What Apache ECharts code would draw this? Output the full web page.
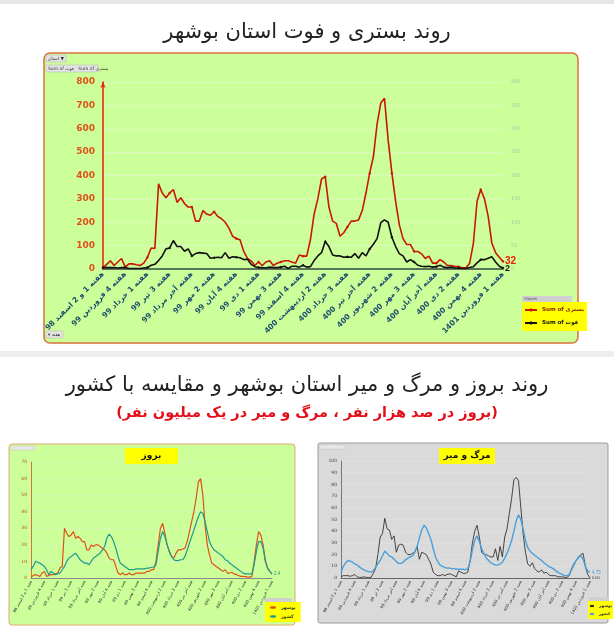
<!DOCTYPE html>
<html><head><meta charset="utf-8">
<script src="https://cdn.jsdelivr.net/npm/echarts@6/dist/echarts.min.js"></script>
<style>html,body{margin:0;padding:0;background:#fff}#c{width:614px;height:640px}</style>
</head><body><div id="c"></div>
<script>
// ---- tick labels (one every 6 weeks) ----
const weekTicks = [
 'هفته 1 و 2 اسفند 98','هفته 4 فروردین 99','هفته 1 خرداد 99','هفته 3 تیر 99','هفته آخر مرداد 99',
 'هفته 2 مهر 99','هفته 4 آبان 99','هفته 1 دی 99','هفته 3 بهمن 99','هفته 4 اسفند 99',
 'هفته 2 اردیبهشت 400','هفته 3 خرداد 400','هفته آخر تیر 400','هفته 2 شهریور 400','هفته 3 مهر 400',
 'هفته آخر آبان 400','هفته 2 دی 400','هفته 4 بهمن 400','هفته 1 فروردین 1401'
];
// ---- top chart: weekly hospitalised (left axis) and deaths (right axis) ----
const bastari = [
 5,20,35,15,30,45,8,22,22,18,
 15,25,50,90,88,365,325,305,325,340,
 285,305,280,265,265,205,205,250,235,230,
 245,225,215,200,175,140,130,125,75,45,
 35,15,30,15,30,35,15,25,30,35,
 35,30,25,60,55,55,125,235,300,385,
 395,265,205,195,140,155,180,205,205,210,
 250,325,410,480,620,710,730,550,410,290,
 190,130,105,105,75,75,65,45,55,25,
 25,40,30,15,15,12,10,5,5,25,
 110,290,340,300,225,110,70,50,32
];
const fot = [
 3,3,3,3,2,3,3,1,1,1,
 1,2,3,8,10,18,28,43,45,61,
 48,48,38,43,28,33,35,34,33,23,
 24,25,24,35,23,26,25,24,20,21,
 10,5,3,3,2,4,3,3,4,6,
 1,6,6,4,8,4,5,18,28,35,
 59,48,30,28,28,25,26,25,33,23,
 35,28,43,53,65,99,105,100,68,48,
 33,28,15,20,15,8,6,5,6,4,
 5,8,4,3,4,2,2,1,1,3,
 5,13,20,20,23,26,15,6,2
];
// ---- bottom-left: incidence per 100k ----
const incBushehr = [
 0.5,1.5,2,1.5,1,3,4,1,1.5,2,
 2,2.5,3,6,7,30,27,25,26,28,
 24,25,24,22,22,17,17,20,19,20,
 20,19,18,17,15,12,11,11,7,3,
 2,3,2,2,3,2,2,3,3,3,
 3,3,4,4,5,5,10,20,30,33,
 27,20,16,13,12,15,17,17,17.5,18,
 22,28,34,40,48,58,60,50,32,20,
 14,9,8,7,6,5,4,5,3,3,
 3.5,2.5,2,1.5,1,1,0.8,0.5,0.5,1,
 10,20,28,26,20,11,6,4,2.5
];
const incIran = [
 5,7,10,9.5,9,8,7,5,2,4,
 3,2,2.5,3,5,7,10,12,13,14,
 15,13,11,10,9,9,8,10,12,13,
 14,15,17,19,24,26.5,25,22,18,13,
 9,8,7,6,5,5,5,5.5,5.5,5.5,
 5.5,5.5,6,6,6.5,6.5,8,16,24,28,
 25,20,16,13,11,10.5,10.5,11,11,13,
 17,21,25,29,33,37,40,39,34,28,
 22,19,17,16,15,14,13,11,10.5,9,
 8,7,6,5,4,3,2.5,2.5,2.5,2.5,
 8,16,22,22,18,10,6,4,2.4
];
// ---- bottom-right: deaths per million ----
const mortBushehr = [
 1,2,2,2,1.5,2,3,1,0.5,0.5,
 1,0.5,0.5,0.5,4,8,20,35,38,51,
 42,41,33,36,22,28,29,28,22,20,
 20,21,22,27,16,22,21,20,16,12,
 5,3,2,2,3,2,3,3.5,3,2,
 1,6,5,4,4,5,15,30,40,45,
 35,22,20,20,19,18,18,25,15,27,
 18,35,42,55,68,84,86,83,60,38,
 22,12,10,13,8,6,5,7,4,5,
 3,2,2,2,1,1,1,0.5,0.5,2,
 8,12,15,18,20,21,10,3,0
];
const mortIran = [
 5,10,13,15,14.5,13.5,12,11,9.5,8,
 7,6,5.5,5,6,9,12,15,19,23,
 21,19,18,16,14,12.5,12.5,13.5,15.5,17,
 18,19,22,27,34,41,45,43,38,33,
 25,18,14,11,10,9,8.5,8.5,8,8,
 7.5,7.5,7.5,7.5,7,8,14,24,32,36,
 31,25,21,17,15,13,12,11,11,12,
 13.5,17,21,26,32,40,49,54,50,42,
 32,26,23,21,19.5,18,16.5,15,13,11.5,
 10,9,8,6.5,5,4,3,2,2,3,
 7,11,15,17.5,19,16,10,6,4.75
];
const weeks = bastari.map((_, i) => i % 6 === 0 ? weekTicks[i / 6] : 'w' + (i + 1));

const FF = 'DejaVu Sans';
const chart = echarts.init(document.getElementById('c'));
const showTick = i => i % 6 === 0;
const smallLbl = (c) => ({interval: showTick, rotate: 62, fontSize: 4, color: c, margin: 3, fontFamily: FF});

chart.setOption({
  backgroundColor: '#ffffff',
  animation: false,
  title: [
    {text: 'روند بستری و فوت استان بوشهر', left: 'center', top: 17,
     textStyle: {fontFamily: FF, fontSize: 21, fontWeight: 'normal', color: '#222'}},
    {text: 'روند بروز و مرگ و میر استان بوشهر و مقایسه با کشور', left: 'center', top: 370,
     textStyle: {fontFamily: FF, fontSize: 21, fontWeight: 'normal', color: '#222'}},
    {text: '(بروز در صد هزار نفر ، مرگ و میر در یک میلیون نفر)', left: 'center', top: 401,
     textStyle: {fontFamily: FF, fontSize: 14.5, fontWeight: 'bold', color: '#e3101a'}}
  ],
  graphic: [
    {type: 'rect', z: -10, shape: {x: 0, y: 0, width: 614, height: 4}, style: {fill: '#e6e6e6'}},
    {type: 'rect', z: -10, shape: {x: 0, y: 351, width: 614, height: 6}, style: {fill: '#eeeeee'}},
    {type: 'rect', z: -10, shape: {x: 44, y: 53, width: 534, height: 290, r: 6},
     style: {fill: '#ccff99', stroke: '#d9703a', lineWidth: 1.5}},
    {type: 'rect', z: -10, shape: {x: 9, y: 444, width: 286, height: 181, r: 3},
     style: {fill: '#ccff99', stroke: '#e0a878', lineWidth: 1}},
    {type: 'rect', z: -10, shape: {x: 318, y: 443, width: 290, height: 180, r: 2},
     style: {fill: '#dadada', stroke: '#9a9a9a', lineWidth: 1}},
    // small pivot buttons
    {type: 'rect', z: 5, shape: {x: 46, y: 55, width: 20, height: 7}, style: {fill: '#e4e4e4', stroke: '#b0b0b0', lineWidth: 0.5}},
    {type: 'text', z: 6, style: {x: 48, y: 58.5, text: 'استان ▼', fontSize: 4.5, fontFamily: FF, fill: '#333', verticalAlign: 'middle'}},
    {type: 'rect', z: 5, shape: {x: 46, y: 65, width: 52, height: 7}, style: {fill: '#e4e4e4', stroke: '#b0b0b0', lineWidth: 0.5}},
    {type: 'text', z: 6, style: {x: 48, y: 68.5, text: 'Sum of فوت   Sum of بستری', fontSize: 4.5, fontFamily: FF, fill: '#333', verticalAlign: 'middle'}},
    {type: 'rect', z: 5, shape: {x: 46, y: 331, width: 17, height: 7}, style: {fill: '#e4e4e4', stroke: '#b0b0b0', lineWidth: 0.5}},
    {type: 'text', z: 6, style: {x: 48, y: 334.5, text: '▾ هفته', fontSize: 4.5, fontFamily: FF, fill: '#333', verticalAlign: 'middle'}},
    // legend headers
    {type: 'rect', z: 5, shape: {x: 522, y: 296, width: 50, height: 6}, style: {fill: '#d0d0d0'}},
    {type: 'text', z: 6, style: {x: 524, y: 299, text: 'Values', fontSize: 4, fontFamily: FF, fill: '#555', verticalAlign: 'middle'}},
    {type: 'rect', z: 5, shape: {x: 265, y: 598, width: 27, height: 4}, style: {fill: '#d0d0d0'}},
    {type: 'rect', z: 5, shape: {x: 588, y: 597, width: 20, height: 4}, style: {fill: '#d0d0d0'}},
    // tiny panel buttons
    {type: 'rect', z: 5, shape: {x: 11, y: 446, width: 24, height: 4}, style: {fill: '#e8e8e8', stroke: '#bbb', lineWidth: 0.4}},
    {type: 'rect', z: 5, shape: {x: 320, y: 445, width: 24, height: 4}, style: {fill: '#e8e8e8', stroke: '#bbb', lineWidth: 0.4}},
    // yellow title boxes
    {type: 'rect', z: 5, shape: {x: 125, y: 448, width: 53, height: 16}, style: {fill: '#ffff00'}},
    {type: 'text', z: 6, style: {x: 151.5, y: 456, text: 'بروز', fontSize: 9, fontWeight: 'bold', fontFamily: FF, fill: '#111', align: 'center', verticalAlign: 'middle'}},
    {type: 'rect', z: 5, shape: {x: 439, y: 448, width: 56, height: 16}, style: {fill: '#ffff00'}},
    {type: 'text', z: 6, style: {x: 467, y: 456, text: 'مرگ و میر', fontSize: 9, fontWeight: 'bold', fontFamily: FF, fill: '#111', align: 'center', verticalAlign: 'middle'}}
  ],
  legend: [
    {data: [{name: 'Sum of بستری', textStyle: {color: '#8a1a00'}}, {name: 'Sum of فوت', textStyle: {color: '#111'}}],
     left: 522, top: 302, orient: 'vertical', backgroundColor: '#ffff00', padding: [5, 3, 5, 2],
     itemWidth: 12, itemHeight: 5, itemGap: 7, selectedMode: false,
     textStyle: {fontSize: 5.5, fontWeight: 'bold', fontFamily: FF}},
    {data: ['بوشهر|بروز', 'کشور|بروز'], formatter: n => n.split('|')[0],
     left: 265, top: 602, orient: 'vertical', backgroundColor: '#ffff00', padding: [3, 5, 3, 4],
     itemWidth: 6, itemHeight: 3, itemGap: 4, selectedMode: false,
     textStyle: {fontSize: 4.5, fontWeight: 'bold', fontFamily: FF, color: '#333'}},
    {data: ['بوشهر|مرگ', 'کشور|مرگ'], formatter: n => n.split('|')[0],
     left: 588, top: 601, orient: 'vertical', backgroundColor: '#ffff00', padding: [3, 1, 3, 1],
     itemWidth: 4, itemHeight: 3, itemGap: 4, selectedMode: false,
     textStyle: {fontSize: 4, fontWeight: 'bold', fontFamily: FF, color: '#333'}}
  ],
  grid: [
    {left: 103, right: 111, top: 82, bottom: 371},
    {left: 31, right: 342, top: 462, bottom: 62},
    {left: 341, right: 24, top: 461, bottom: 62}
  ],
  xAxis: [
    {gridIndex: 0, type: 'category', data: weeks, boundaryGap: false,
     axisLine: {lineStyle: {color: '#2d4a3a', width: 1.5}}, axisTick: {show: false},
     axisLabel: {interval: showTick, rotate: 45, fontSize: 7.5, fontWeight: 'bold', color: '#1f4e6e', margin: 4, fontFamily: FF}},
    {gridIndex: 1, type: 'category', data: weeks, boundaryGap: false,
     axisLine: {lineStyle: {color: '#8a8a8a', width: 1}}, axisTick: {show: false}, axisLabel: smallLbl('#333')},
    {gridIndex: 2, type: 'category', data: weeks, boundaryGap: false,
     axisLine: {lineStyle: {color: '#666', width: 1}}, axisTick: {show: false}, axisLabel: smallLbl('#333')}
  ],
  yAxis: [
    {gridIndex: 0, type: 'value', min: 0, max: 800, interval: 100,
     axisLine: {show: true, lineStyle: {color: '#e8200a', width: 1.5}, symbol: ['none', 'arrow'], symbolSize: [4, 6]},
     axisLabel: {color: '#e0501a', fontWeight: 'bold', fontSize: 9, fontFamily: FF},
     splitLine: {lineStyle: {color: '#dcf7c0'}}},
    {gridIndex: 0, type: 'value', min: 0, max: 400, interval: 50, position: 'right',
     axisLine: {show: false}, axisTick: {show: false},
     axisLabel: {color: '#b4c4a4', fontSize: 5, fontFamily: FF}, splitLine: {show: false}},
    {gridIndex: 1, type: 'value', min: 0, max: 70, interval: 10,
     axisLine: {show: true, lineStyle: {color: '#e07030', width: 1}},
     axisLabel: {color: '#b05020', fontSize: 4.5, margin: 4, fontFamily: FF},
     splitLine: {lineStyle: {color: '#dcf5c4', width: 0.6}}},
    {gridIndex: 2, type: 'value', min: 0, max: 100, interval: 10,
     axisLine: {show: true, lineStyle: {color: '#777', width: 1}},
     axisLabel: {color: '#444', fontSize: 4.5, margin: 4, fontFamily: FF},
     splitLine: {lineStyle: {color: '#e3e3e3', width: 0.6}}}
  ],
  series: [
    {name: 'Sum of بستری', type: 'line', xAxisIndex: 0, yAxisIndex: 0, data: bastari,
     color: '#e8200a', lineStyle: {width: 1.6}, symbol: 'diamond', symbolSize: 3, itemStyle: {color: '#c81800'},
     endLabel: {show: true, formatter: p => p.value, color: '#e8200a', fontWeight: 'bold', fontSize: 10, distance: 2}},
    {name: 'Sum of فوت', type: 'line', xAxisIndex: 0, yAxisIndex: 1, data: fot,
     color: '#111', lineStyle: {width: 1.6}, symbol: 'diamond', symbolSize: 3, itemStyle: {color: '#111'},
     endLabel: {show: true, formatter: p => p.value, color: '#111', fontWeight: 'bold', fontSize: 9, distance: 2}},
    {name: 'بوشهر|بروز', type: 'line', xAxisIndex: 1, yAxisIndex: 2, data: incBushehr,
     color: '#e0501a', lineStyle: {width: 1.2}, symbol: 'none'},
    {name: 'کشور|بروز', type: 'line', xAxisIndex: 1, yAxisIndex: 2, data: incIran,
     color: '#1f9a8c', lineStyle: {width: 1.2}, symbol: 'none',
     endLabel: {show: true, formatter: p => p.value, color: '#1f9a8c', fontSize: 4.5, distance: 2}},
    {name: 'بوشهر|مرگ', type: 'line', xAxisIndex: 2, yAxisIndex: 3, data: mortBushehr,
     color: '#333', lineStyle: {width: 0.9}, symbol: 'none',
     endLabel: {show: true, formatter: p => p.value.toFixed(2), color: '#333', fontSize: 4, distance: 2}},
    {name: 'کشور|مرگ', type: 'line', xAxisIndex: 2, yAxisIndex: 3, data: mortIran,
     color: '#4aa0dc', lineStyle: {width: 1.4}, symbol: 'none',
     endLabel: {show: true, formatter: p => p.value, color: '#4aa0dc', fontSize: 4.5, distance: 2}}
  ]
});
</script>
</body></html>
